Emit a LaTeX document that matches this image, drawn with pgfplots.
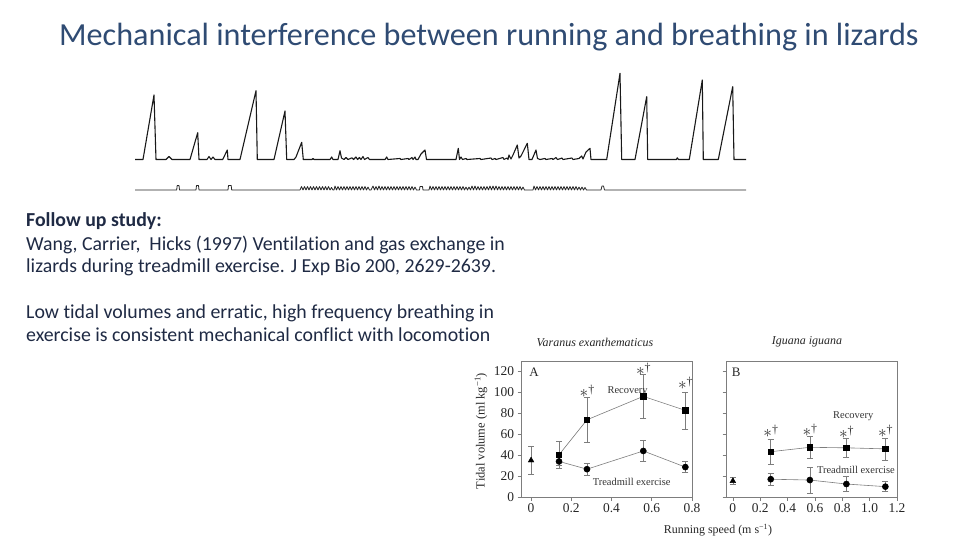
\documentclass[border=0pt]{standalone}
\usepackage{pgfplots}
\pgfplotsset{compat=1.18}
\usepackage{fontspec}
\setmainfont{Carlito}[Ligatures=NoCommon]
\newfontfamily\timesfont{Liberation Serif}
\definecolor{titleblue}{RGB}{47,75,115}
\definecolor{bodyblue}{RGB}{31,42,68}
\definecolor{framegray}{RGB}{125,125,125}
\pgfplotsset{panel/.style={scale only axis, width=171bp, height=136bp, ymin=0, ymax=130,
  ytick={0,20,...,120}, axis line style={framegray, line width=0.6bp},
  tick style={framegray, line width=0.6bp}, tick align=outside, xtick pos=left, ytick pos=left,
  major tick length=3.5bp, ticklabel style={font=\timesfont\fontsize{13.5}{13.5}\selectfont, text=black!85},
  /pgf/number format/assume math mode=true, clip=false},
  errs/.style={error bars/.cd, y dir=both, y explicit, error bar style={framegray, line width=0.5bp}, error mark options={rotate=90, framegray, line width=0.5bp, mark size=3bp}},
  rec/.style={color=framegray, line width=0.6bp, mark=square*, mark size=2.7bp, mark options={black, fill=black, solid}, errs},
  tre/.style={color=framegray, line width=0.6bp, mark=*, mark size=3bp, mark options={black, fill=black, solid}, errs},
  tri/.style={only marks, mark=triangle*, mark size=3.3bp, mark options={black, fill=black}, errs}}
\tikzset{ann/.style={font=\timesfont\fontsize{10.5}{10.5}\selectfont, text=black!80, inner sep=1bp}}
\newcommand{\st}{{\fontsize{19}{19}\selectfont$\ast$}{\timesfont\fontsize{12}{12}\selectfont\raisebox{4pt}{†}}}
\begin{document}
\begin{tikzpicture}
\begin{axis}[at={(0,0)}, anchor=south west, width=960bp, height=540bp, scale only axis,
  xmin=0, xmax=960, ymin=0, ymax=540, y dir=reverse, axis lines=none, clip=false]
% upper trace (ventilation)
\addplot[black!90, line width=1.1bp, line join=round] table {
135 159.5
143 159.5
154 95
156 159.5
166 159.5
169 156.5
172 159.5
190 159.5
197.7 132.7
199 159.5
207 159.5
209 156.5
211 159.5
213 157
215 159.5
222.7 159.5
227.3 150
228 159.5
240 159.5
256 90.7
257.3 159.5
274 159.5
285 111
286.7 159.5
294 159.5
296 157
301.7 142.3
303.3 159.5
312 159.5
313 158.5
314 159.5
330 159.5
331.7 157
333 159.5
338 159.5
340 150.7
341.5 158
344 159.5
346 157.5
348 159.5
352 157.8
353.5 159.5
356 157
357.5 159.5
359.5 157.5
361 159.5
363 156.5
364.5 159.5
368 157.5
369.5 159.5
385 159.5
386.7 157
388 159.5
400 158.5
401 159.5
408 158.5
409 159.5
412 157.5
413 159.5
415 157
416 159.5
418 159.5
421 154
425 150
426.5 159.5
456 159.5
458.3 148.3
459.5 159.5
461 157
462.5 159.5
466 158.5
467 159.5
480 158.5
481 159.5
491 158
492 159.5
495 158.5
496 159.5
503 157.5
504 159.5
507 158
508 159.5
509 155
511 159
513 155
517.3 145
519 158
521 156
523 152
527.3 143.3
529 159.5
532 159.5
536 150
537.5 158.5
540 159.5
545 158.5
546 159.5
552 158.5
553 159.5
556 157.5
557.5 159.5
562 158
563 159.5
572 158
573 159.5
579 158.5
580.5 157
581.7 156
583 159
586 152
590 148.3
591 159.5
606.7 159.5
620 73.3
621.7 159.5
635 159.5
646.7 96.7
647.7 159.5
676.5 159.5
677.3 157.8
678.5 159.5
689.3 159.5
702.3 80
703.3 159.5
718.3 159.5
732.7 86.7
734 159.5
746 159.5
};
% lower trace (locomotion)
\addplot[black!85, line width=0.8bp, line join=round] table {
135 190
176.7 190
177.2 185.5
179 185.5
179.5 190
196 190
196.5 185.5
198.5 185.5
199 190
228 190
228.5 185.5
231.2 185.5
231.7 190
300 190
301.5 186.5
303 190
304.5 186.5
306 190
307.5 186.5
309 190
310.5 186.5
312 190
313.5 186.5
315 190
316.5 186.5
318 190
319.5 186.5
321 190
322.5 186.5
324 190
325.5 186.5
327 190
328.5 186.5
330 190
331.5 187.5
333 190
334 190
335 186
336.5 190
338 186.5
339.5 190
341 186.5
342.5 190
344 186.5
345.5 190
347 186.5
348.5 190
350 186.5
351.5 190
353 186.5
354.5 190
356 186.5
357.5 190
359 186.5
360.5 190
362 186.5
363.5 190
365 186.5
366.5 190
368 187
369.5 190
371 190
373 186
374.5 190
376 186.5
377.5 190
379 186
380.5 190
382 186.5
383.5 190
385 186.5
386.5 190
388 186.5
389.5 190
391 186.5
392.5 190
394 186.5
395.5 190
397 186.5
398.5 190
400 186.5
401.5 190
403 186.5
404.5 190
406 186.5
407.5 190
409 186.5
410.5 190
412 186.5
413.5 190
415 187
416.5 190
419.5 190
420 186.5
422.5 186.5
423 190
429 190
430 186
431.5 190
433 186.5
434.5 190
436 186.5
437.5 190
439 186.5
440.5 190
442 186.5
443.5 190
445 186.5
446.5 190
448 186.5
449.5 190
451 186.5
452.5 190
454 186.5
455.5 190
457 186.5
458.5 190
460 186.5
461.5 190
463 186.5
464.5 190
466 187
467.5 190
469 187
470.5 190
472 186
473.5 190
475 186
476.5 190
478 186.5
479.5 190
481 186.5
482.5 190
484 186.5
485.5 190
487 186.5
488.5 190
490 186
491.5 190
493 186
494.5 190
496 186
497.5 190
499 186.5
500.5 190
502 186.5
503.5 190
505 186.5
506.5 190
508 186.5
509.5 190
511 186.5
512.5 190
514 186.5
515.5 190
517 186.5
518.5 190
520 186.5
521.5 190
523 187
524.5 190
533 190
534 186
535.5 190
537 186.5
538.5 190
540 186.5
541.5 190
543 186.5
544.5 190
546 186.5
547.5 190
549 186.5
550.5 190
552 186.5
553.5 190
555 186.5
556.5 190
558 186.5
559.5 190
561 186.5
562.5 190
564 186.5
565.5 190
567 186.5
568.5 190
570 186.5
571.5 190
573 186.5
574.5 190
576 186.5
577.5 190
579 187
580.5 190
582 187
583.5 190
585 187.5
586.5 190
601 190
602 186
603.5 186
604.5 190
746 190
};
% title
\node[anchor=base west, inner sep=0, font=\fontsize{32.3}{32.3}\selectfont, text=titleblue] at (axis cs:59,45) {Mechanical interference between running and breathing in lizards};
% body text
\begin{scope}[every node/.style={anchor=base west, inner sep=0, font=\fontsize{19.9}{19.9}\selectfont, text=bodyblue}]
\node at (axis cs:26,226.7) {\bfseries Follow up study:};
\node at (axis cs:26,250) {Wang, Carrier,\ \ Hicks (1997) Ventilation and gas exchange in};
\node at (axis cs:26,272.7) {lizards during treadmill exercise. J Exp Bio 200, 2629-2639.};
\node at (axis cs:26,318.3) {Low tidal volumes and erratic, high frequency breathing in};
\node at (axis cs:26,341.7) {exercise is consistent mechanical conflict with locomotion};
\end{scope}
% panel titles and axis labels
\node[font=\timesfont\itshape\fontsize{12}{12}\selectfont, text=black!85] at (axis cs:595,342) {Varanus exanthematicus};
\node[font=\timesfont\itshape\fontsize{12}{12}\selectfont, text=black!85] at (axis cs:807,342) {Iguana iguana};
\node[rotate=90, font=\timesfont\fontsize{12.5}{12.5}\selectfont, text=black!85] at (axis cs:481,431) {Tidal volume (ml kg\textsuperscript{−1})};
\node[font=\timesfont\fontsize{12}{12}\selectfont, text=black!85] at (axis cs:718,530) {Running speed (m s\textsuperscript{−1})};
\end{axis}

% Panel A
\begin{axis}[panel, at={(521bp,43bp)}, anchor=south west, xmin=-0.05, xmax=0.8,
  xtick={0,0.2,0.4,0.6,0.8}, xticklabels={0,0.2,0.4,0.6,0.8}]
\addplot[rec] table[y error=e] {
x y e
0.139 40.4 13.2
0.278 73.8 21.9
0.558 96.2 21.2
0.767 82.8 17.8
};
\addplot[tre] table[y error=e] {
x y e
0.139 34 4
0.278 26.6 5.4
0.558 44 10.2
0.767 28.6 5.3
};
\addplot[tri] table[y error=e] {
x y e
0 35 13.5
};
\node[ann] at (axis cs:0.278,101) {\st};
\node[ann] at (axis cs:0.558,122) {\st};
\node[ann] at (axis cs:0.767,109) {\st};
\node[ann] at (axis cs:0.48,101) {Recovery};
\node[ann] at (axis cs:0.5,14) {Treadmill exercise};
\node[font=\timesfont\fontsize{13}{13}\selectfont, text=black!85] at (axis cs:0.015,119) {A};
\end{axis}

% Panel B
\begin{axis}[panel, at={(726bp,43bp)}, anchor=south west, xmin=-0.05, xmax=1.2,
  xtick={0,0.2,0.4,0.6,0.8,1.0,1.2}, xticklabels={0,0.2,0.4,0.6,0.8,1.0,1.2}, yticklabels={}]
\addplot[rec] table[y error=e] {
x y e
0.277 43.3 12
0.563 47.5 10.5
0.83 47 9
1.115 46 10.6
};
\addplot[tre] table[y error=e] {
x y e
0.277 17 5.8
0.563 16.2 12.6
0.83 12.4 7
1.115 9.9 4.7
};
\addplot[tri] table[y error=e] {
x y e
0 15.3 3.5
};
\node[ann] at (axis cs:0.277,63) {\st};
\node[ann] at (axis cs:0.563,63.5) {\st};
\node[ann] at (axis cs:0.83,61.5) {\st};
\node[ann] at (axis cs:1.115,63) {\st};
\node[ann] at (axis cs:0.88,77) {Recovery};
\node[ann] at (axis cs:0.9,26) {Treadmill exercise};
\node[font=\timesfont\fontsize{13}{13}\selectfont, text=black!85] at (axis cs:0.024,119) {B};
\end{axis}
\pgfresetboundingbox
\path[use as bounding box] (0,0) rectangle (960bp,540bp);
\end{tikzpicture}
\end{document}
